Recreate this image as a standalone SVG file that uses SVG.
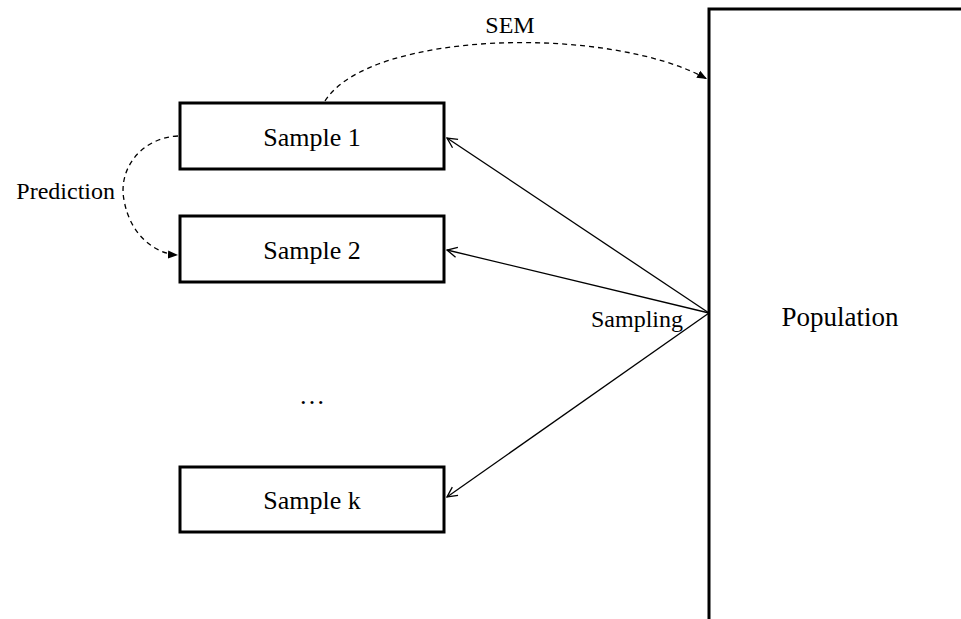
<svg xmlns="http://www.w3.org/2000/svg" width="961" height="619" viewBox="0 0 961 619">
  <style>
    .box { fill: #fff; stroke: #000; stroke-width: 3; }
    .lbl { font-family: "Liberation Serif", "Times New Roman", serif; fill: #000; }
    .big { font-size: 26px; }
    .pop { font-size: 27px; }
    .small { font-size: 24px; }
    .solid { fill: none; stroke: #000; stroke-width: 1.3; }
    .dash { fill: none; stroke: #000; stroke-width: 1.3; stroke-dasharray: 5 4; }
  </style>
  <defs>
    <marker id="open" viewBox="0 0 12 12" refX="11" refY="6" markerWidth="12" markerHeight="12" markerUnits="userSpaceOnUse" orient="auto">
      <path d="M1 1 L11 6 L1 11" fill="none" stroke="#000" stroke-width="1.3"/>
    </marker>
    <marker id="solidhead" viewBox="0 0 10 10" refX="10" refY="5" markerWidth="10" markerHeight="10" markerUnits="userSpaceOnUse" orient="auto">
      <path d="M0 1 L10 5 L0 9 Z" fill="#000"/>
    </marker>
  </defs>

  <rect width="961" height="619" fill="#fff"/>

  <!-- Population boundary -->
  <g id="population">
    <path d="M709 619 V9 H961" fill="none" stroke="#000" stroke-width="3"/>
    <text class="lbl pop" x="840" y="326" text-anchor="middle">Population</text>
  </g>

  <g id="sample1">
    <rect class="box" x="180" y="103" width="264" height="66"/>
    <text class="lbl big" x="312" y="146" text-anchor="middle">Sample 1</text>
  </g>
  <g id="sample2">
    <rect class="box" x="180" y="216" width="264" height="66"/>
    <text class="lbl big" x="312" y="259" text-anchor="middle">Sample 2</text>
  </g>
  <g id="ellipsis">
    <text class="lbl big" x="312" y="404" text-anchor="middle">…</text>
  </g>
  <g id="samplek">
    <rect class="box" x="180" y="467" width="264" height="65"/>
    <text class="lbl big" x="312" y="509" text-anchor="middle">Sample k</text>
  </g>

  <g id="connectors">
    <line class="solid" x1="709" y1="313" x2="447" y2="138" marker-end="url(#open)"/>
    <line class="solid" x1="709" y1="313" x2="447" y2="250" marker-end="url(#open)"/>
    <line class="solid" x1="709" y1="313" x2="447" y2="497" marker-end="url(#open)"/>
    <path class="dash" d="M325 101 C370 30, 610 25, 707 79" marker-end="url(#solidhead)"/>
    <path class="dash" d="M178 136 C140 138, 118 170, 124 200 C130 235, 155 254, 178 255" marker-end="url(#solidhead)"/>
  </g>

  <g id="labels">
    <text class="lbl small" x="510" y="33" text-anchor="middle">SEM</text>
    <text class="lbl small" x="115" y="199" text-anchor="end">Prediction</text>
    <text class="lbl small" x="683" y="327" text-anchor="end">Sampling</text>
  </g>
</svg>
